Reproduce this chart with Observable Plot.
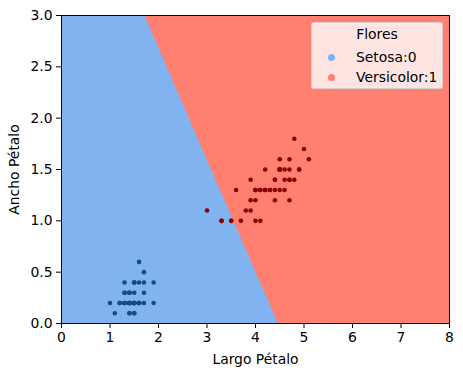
<!DOCTYPE html>
<html><head><meta charset="utf-8">
<script src="https://cdn.jsdelivr.net/npm/d3@7"></script>
<script src="https://cdn.jsdelivr.net/npm/@observablehq/plot@0.6"></script>
<style>
body{margin:0;background:#fff;font-family:"DejaVu Sans",sans-serif}
#wrap{position:relative;width:463px;height:377px}
#legend{position:absolute;left:311px;top:22px;width:130px;height:65px;background:rgba(255,255,255,0.8);border:1px solid rgba(204,204,204,0.8);border-radius:3px;font-size:13.9px;color:#000;box-sizing:content-box}
#legend .t{position:absolute;left:0;width:100%;text-align:center;top:3px}
#legend .e{position:absolute;left:44px;white-space:nowrap}
#legend .m{position:absolute;left:16px;width:7px;height:7px;border-radius:50%}
</style>
</head><body><div id="wrap"></div>
<script>
// Setosa (class 0): petal length / petal width
const setosaLength = [1.4,1.4,1.3,1.5,1.4,1.7,1.4,1.5,1.4,1.5,1.5,1.6,1.4,1.1,1.2,1.5,1.3,1.4,1.7,1.5,1.7,1.5,1.0,1.7,1.9,1.6,1.6,1.5,1.4,1.6,1.6,1.5,1.5,1.4,1.5,1.2,1.3,1.4,1.3,1.5,1.3,1.3,1.3,1.6,1.9,1.4,1.6,1.4,1.5,1.4];
const setosaWidth  = [0.2,0.2,0.2,0.2,0.2,0.4,0.3,0.2,0.2,0.1,0.2,0.2,0.1,0.1,0.2,0.4,0.4,0.3,0.3,0.3,0.2,0.4,0.2,0.5,0.2,0.2,0.4,0.2,0.2,0.2,0.2,0.4,0.1,0.2,0.2,0.2,0.2,0.1,0.2,0.2,0.3,0.3,0.2,0.6,0.4,0.3,0.2,0.2,0.2,0.2];
// Versicolor (class 1)
const versiLength = [4.7,4.5,4.9,4.0,4.6,4.5,4.7,3.3,4.6,3.9,3.5,4.2,4.0,4.7,3.6,4.4,4.5,4.1,4.5,3.9,4.8,4.0,4.9,4.7,4.3,4.4,4.8,5.0,4.5,3.5,3.8,3.7,3.9,5.1,4.5,4.5,4.7,4.4,4.1,4.0,4.4,4.6,4.0,3.3,4.2,4.2,4.2,4.3,3.0,4.1];
const versiWidth  = [1.4,1.5,1.5,1.3,1.5,1.3,1.6,1.0,1.3,1.4,1.0,1.5,1.0,1.4,1.3,1.4,1.5,1.0,1.5,1.1,1.8,1.3,1.5,1.2,1.3,1.4,1.4,1.7,1.5,1.0,1.1,1.0,1.2,1.6,1.5,1.6,1.5,1.3,1.3,1.3,1.2,1.4,1.2,1.0,1.3,1.3,1.3,1.3,1.1,1.3];
// Decision boundary
const boundaryY = [0, 1.5, 3.0];
const boundaryX = [4.47, 3.09, 1.72];

const xDomain = [0, 8];
const yDomain = [0, 3];
const xTicks = [0,1,2,3,4,5,6,7,8];
const yTicks = [0,0.5,1,1.5,2,2.5,3];
const classNames = ["Setosa:0", "Versicolor:1"];
const regionColors = ["#80b3f0", "#ff7f70"];
const pointColors = ["#0f4f80", "#8b0000"];

const setosa = setosaLength.map((x, i) => ({x, y: setosaWidth[i]}));
const versi = versiLength.map((x, i) => ({x, y: versiWidth[i]}));
const boundary = boundaryY.map((y, i) => ({y, x: boundaryX[i]}));

const chart = Plot.plot({
  width: 463, height: 377,
  marginLeft: 61, marginRight: 14, marginTop: 15, marginBottom: 54,
  style: {fontFamily: "DejaVu Sans", fontSize: "13.9px", color: "#000", background: "#fff"},
  x: {domain: xDomain},
  y: {domain: yDomain},
  marks: [
    Plot.frame({fill: regionColors[0]}),
    Plot.areaX(boundary, {y: "y", x1: "x", x2: xDomain[1], fill: regionColors[1]}),
    Plot.dot(setosa, {x: "x", y: "y", r: 2.3, fill: pointColors[0]}),
    Plot.dot(versi, {x: "x", y: "y", r: 2.3, fill: pointColors[1]}),
    Plot.axisX({ticks: xTicks, tickSize: 5, tickPadding: 4, tickFormat: d3.format("d"), label: "Largo Pétalo", labelAnchor: "center", labelArrow: "none", labelOffset: 40}),
    Plot.axisY({ticks: yTicks, tickSize: 5, tickPadding: 4, tickFormat: d3.format(".1f"), label: "Ancho Pétalo", labelAnchor: "center", labelArrow: "none", labelOffset: 52}),
    Plot.frame({stroke: "#000", strokeWidth: 1})
  ]
});
const wrap = document.getElementById("wrap");
wrap.appendChild(chart);

const leg = document.createElement("div");
leg.id = "legend";
let html = `<div class="t">Flores</div>`;
classNames.forEach((name, i) => {
  const top = 26 + i * 20;
  html += `<div class="m" style="top:${top + 5}px;background:${regionColors[i]}"></div><div class="e" style="top:${top}px">${name}</div>`;
});
leg.innerHTML = html;
wrap.appendChild(leg);
</script>
</body></html>
